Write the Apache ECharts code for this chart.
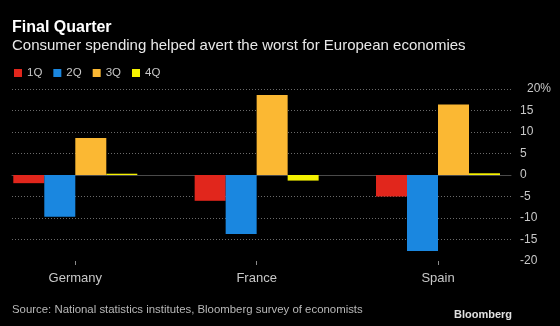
<!DOCTYPE html>
<html><head><meta charset="utf-8">
<script src="https://cdn.jsdelivr.net/npm/echarts@6/dist/echarts.min.js"></script>
<style>html,body{margin:0;padding:0;background:#000}#c{width:560px;height:326px}</style>
</head><body><div id="c"></div>
<script>
const categories = ['Germany', 'France', 'Spain'];
const seriesNames = ['1Q', '2Q', '3Q', '4Q'];
const q1 = [-1.9, -6.0, -5.0];
const q2 = [-9.7, -13.7, -17.7];
const q3 = [8.6, 18.6, 16.4];
const q4 = [0.3, -1.3, 0.4];
const yMin = -20, yMax = 20, yStep = 5;
const colors = ['#e1261c', '#1a87e0', '#fbb833', '#f5f200'];

const FONT = 'Liberation Sans';
const chart = echarts.init(document.getElementById('c'), null, {renderer: 'canvas'});
const values = [q1, q2, q3, q4];
const plotTop = 89, plotH = 172;
const pxPerUnit = plotH / (yMax - yMin);

chart.setOption({
  backgroundColor: '#000',
  animation: false,
  textStyle: {fontFamily: FONT},
  title: [
    {text: 'Final Quarter', left: 12, top: 20, padding: 0, textStyle: {color: '#fff', fontSize: 16, fontWeight: 'bold', fontFamily: FONT}},
    {text: 'Consumer spending helped avert the worst for European economies', left: 12, top: 38.5, padding: 0, textStyle: {color: '#e8e8e8', fontSize: 15, fontWeight: 'normal', fontFamily: FONT}},
    {text: 'Source: National statistics institutes, Bloomberg survey of economists', left: 12, top: 304, padding: 0, textStyle: {color: '#b8b8b8', fontSize: 11.4, fontWeight: 'normal', fontFamily: FONT}},
    {text: 'Bloomberg', right: 48, top: 309, padding: 0, textStyle: {color: '#e0e0e0', fontSize: 11, fontWeight: 'bold', fontFamily: FONT}}
  ],
  legend: {
    data: seriesNames,
    left: 14, top: 67, padding: 0,
    icon: 'rect', itemWidth: 8, itemHeight: 8, itemGap: 11,
    textStyle: {color: '#c8c8c8', fontSize: 11.5, fontFamily: FONT}
  },
  grid: [
    {left: 12, width: 499, top: plotTop, height: (yMax - (-15)) * pxPerUnit},
    {left: 12, width: 499, top: plotTop, height: plotH},
    {left: 75.3, width: 362.7, top: plotTop, height: plotH}
  ],
  xAxis: [
    {gridIndex: 0, type: 'category', data: ['a'], axisLine: {show: true, onZero: true, lineStyle: {color: '#4a4a4a', width: 1}}, axisTick: {show: false}, axisLabel: {show: false}},
    {gridIndex: 1, type: 'category', data: ['a'], show: false},
    {gridIndex: 2, type: 'category', data: categories, boundaryGap: false,
      axisLine: {show: true, onZero: false, lineStyle: {color: 'rgba(0,0,0,0)'}},
      axisTick: {show: true, length: 4, lineStyle: {color: '#8a8a8a'}},
      axisLabel: {color: '#c8c8c8', fontSize: 13, margin: 11, fontFamily: FONT}}
  ],
  yAxis: [
    {gridIndex: 0, type: 'value', min: -15, max: yMax, interval: yStep, axisLabel: {show: false}, axisLine: {show: false}, axisTick: {show: false},
      splitLine: {show: true, lineStyle: {color: '#6a6a6a', type: [1, 2], width: 1}}},
    {gridIndex: 1, type: 'value', position: 'right', min: yMin, max: yMax, interval: yStep,
      axisLine: {show: false}, axisTick: {show: false}, splitLine: {show: false},
      axisLabel: {color: '#c8c8c8', fontSize: 12, margin: 9, fontFamily: FONT,
        formatter: v => v === yMax ? '{p|' + v + '%}' : String(v),
        rich: {p: {color: '#c8c8c8', fontSize: 12, fontFamily: FONT, padding: [0, 0, 0, 7]}}}},
    {gridIndex: 2, type: 'value', min: yMin, max: yMax, interval: yStep, show: false}
  ],
  series: seriesNames.map((n, i) => ({
    name: n, type: 'bar', xAxisIndex: 2, yAxisIndex: 2, clip: false,
    data: values[i], barWidth: 31, barGap: '0%',
    itemStyle: {color: colors[i]}
  }))
});
</script></body></html>
